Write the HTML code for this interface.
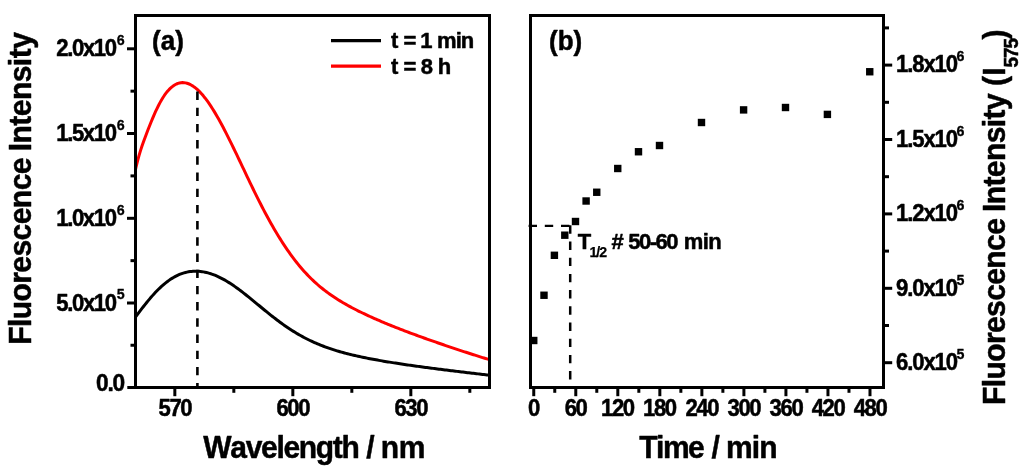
<!DOCTYPE html>
<html>
<head>
<meta charset="utf-8">
<title>Fluorescence figure</title>
<style>
html,body{margin:0;padding:0;background:#fff;}
body{width:1024px;height:472px;overflow:hidden;font-family:"Liberation Sans",sans-serif;}
svg{display:block;will-change:transform;}
</style>
</head>
<body>
<svg width="1024" height="472" viewBox="0 0 1024 472" font-family="Liberation Sans, sans-serif" font-weight="bold" fill="#000">
<style>text{stroke:#000;stroke-width:0.5px;stroke-linejoin:round;font-kerning:none}</style>
<rect x="0" y="0" width="1024" height="472" fill="#fff"/>
<defs><clipPath id="ca"><rect x="135.5" y="15.5" width="354.0" height="372.0"/></clipPath></defs>
<g clip-path="url(#ca)" fill="none" stroke-width="3.0" stroke-linejoin="round">
<path d="M134.5,318.42 L136.0,316.39 L137.5,314.38 L139.0,312.37 L140.5,310.39 L142.0,308.43 L143.5,306.50 L145.0,304.59 L146.5,302.72 L148.0,300.89 L149.5,299.09 L151.0,297.34 L152.5,295.63 L154.0,293.97 L155.5,292.35 L157.0,290.79 L158.5,289.29 L160.0,287.84 L161.5,286.44 L163.0,285.11 L164.5,283.83 L166.0,282.62 L167.5,281.46 L169.0,280.37 L170.5,279.34 L172.0,278.37 L173.5,277.47 L175.0,276.62 L176.5,275.84 L178.0,275.13 L179.5,274.47 L181.0,273.88 L182.5,273.35 L184.0,272.87 L185.5,272.46 L187.0,272.11 L188.5,271.81 L190.0,271.58 L191.5,271.39 L193.0,271.27 L194.5,271.20 L196.0,271.18 L197.5,271.22 L199.0,271.31 L200.5,271.45 L202.0,271.64 L203.5,271.88 L205.0,272.17 L206.5,272.51 L208.0,272.89 L209.5,273.32 L211.0,273.80 L212.5,274.32 L214.0,274.88 L215.5,275.48 L217.0,276.13 L218.5,276.81 L220.0,277.54 L221.5,278.30 L223.0,279.09 L224.5,279.93 L226.0,280.79 L227.5,281.69 L229.0,282.62 L230.5,283.58 L232.0,284.57 L233.5,285.59 L235.0,286.63 L236.5,287.70 L238.0,288.78 L239.5,289.89 L241.0,291.02 L242.5,292.17 L244.0,293.34 L245.5,294.52 L247.0,295.71 L248.5,296.91 L250.0,298.13 L251.5,299.35 L253.0,300.58 L254.5,301.81 L256.0,303.05 L257.5,304.29 L259.0,305.53 L260.5,306.77 L262.0,308.01 L263.5,309.24 L265.0,310.47 L266.5,311.69 L268.0,312.90 L269.5,314.10 L271.0,315.30 L272.5,316.48 L274.0,317.65 L275.5,318.80 L277.0,319.95 L278.5,321.07 L280.0,322.18 L281.5,323.28 L283.0,324.36 L284.5,325.42 L286.0,326.46 L287.5,327.48 L289.0,328.49 L290.5,329.47 L292.0,330.44 L293.5,331.38 L295.0,332.31 L296.5,333.22 L298.0,334.10 L299.5,334.97 L301.0,335.81 L302.5,336.64 L304.0,337.45 L305.5,338.23 L307.0,339.00 L308.5,339.75 L310.0,340.48 L311.5,341.19 L313.0,341.88 L314.5,342.56 L316.0,343.22 L317.5,343.86 L319.0,344.48 L320.5,345.09 L322.0,345.68 L323.5,346.26 L325.0,346.82 L326.5,347.36 L328.0,347.90 L329.5,348.41 L331.0,348.92 L332.5,349.41 L334.0,349.89 L335.5,350.36 L337.0,350.82 L338.5,351.26 L340.0,351.70 L341.5,352.12 L343.0,352.54 L344.5,352.95 L346.0,353.34 L347.5,353.73 L349.0,354.11 L350.5,354.48 L352.0,354.84 L353.5,355.20 L355.0,355.55 L356.5,355.89 L358.0,356.22 L359.5,356.55 L361.0,356.88 L362.5,357.19 L364.0,357.51 L365.5,357.81 L367.0,358.11 L368.5,358.41 L370.0,358.70 L371.5,358.99 L373.0,359.27 L374.5,359.55 L376.0,359.83 L377.5,360.10 L379.0,360.36 L380.5,360.63 L382.0,360.89 L383.5,361.15 L385.0,361.40 L386.5,361.65 L388.0,361.90 L389.5,362.14 L391.0,362.39 L392.5,362.63 L394.0,362.86 L395.5,363.10 L397.0,363.33 L398.5,363.56 L400.0,363.79 L401.5,364.02 L403.0,364.24 L404.5,364.46 L406.0,364.68 L407.5,364.90 L409.0,365.12 L410.5,365.33 L412.0,365.54 L413.5,365.75 L415.0,365.96 L416.5,366.17 L418.0,366.38 L419.5,366.58 L421.0,366.79 L422.5,366.99 L424.0,367.19 L425.5,367.39 L427.0,367.59 L428.5,367.79 L430.0,367.99 L431.5,368.18 L433.0,368.38 L434.5,368.57 L436.0,368.77 L437.5,368.96 L439.0,369.15 L440.5,369.34 L442.0,369.53 L443.5,369.72 L445.0,369.91 L446.5,370.09 L448.0,370.28 L449.5,370.46 L451.0,370.65 L452.5,370.83 L454.0,371.02 L455.5,371.20 L457.0,371.38 L458.5,371.56 L460.0,371.75 L461.5,371.93 L463.0,372.11 L464.5,372.29 L466.0,372.46 L467.5,372.64 L469.0,372.82 L470.5,373.00 L472.0,373.17 L473.5,373.35 L475.0,373.53 L476.5,373.70 L478.0,373.87 L479.5,374.05 L481.0,374.22 L482.5,374.39 L484.0,374.56 L485.5,374.74 L487.0,374.91 L488.5,375.08 L490.0,375.24" stroke="#000"/>
<path d="M134.5,174.17 L136.0,167.21 L137.5,161.08 L139.0,155.61 L140.5,150.65 L142.0,146.07 L143.5,141.77 L145.0,137.65 L146.5,133.67 L148.0,129.78 L149.5,125.96 L151.0,122.23 L152.5,118.60 L154.0,115.09 L155.5,111.72 L157.0,108.52 L158.5,105.48 L160.0,102.63 L161.5,99.97 L163.0,97.51 L164.5,95.24 L166.0,93.18 L167.5,91.31 L169.0,89.63 L170.5,88.14 L172.0,86.83 L173.5,85.71 L175.0,84.77 L176.5,84.00 L178.0,83.40 L179.5,82.98 L181.0,82.71 L182.5,82.61 L184.0,82.67 L185.5,82.88 L187.0,83.24 L188.5,83.75 L190.0,84.40 L191.5,85.20 L193.0,86.12 L194.5,87.18 L196.0,88.37 L197.5,89.68 L199.0,91.11 L200.5,92.66 L202.0,94.31 L203.5,96.08 L205.0,97.95 L206.5,99.92 L208.0,101.99 L209.5,104.15 L211.0,106.40 L212.5,108.73 L214.0,111.15 L215.5,113.64 L217.0,116.20 L218.5,118.83 L220.0,121.52 L221.5,124.27 L223.0,127.08 L224.5,129.94 L226.0,132.85 L227.5,135.81 L229.0,138.80 L230.5,141.82 L232.0,144.88 L233.5,147.97 L235.0,151.08 L236.5,154.21 L238.0,157.35 L239.5,160.50 L241.0,163.66 L242.5,166.82 L244.0,169.98 L245.5,173.14 L247.0,176.29 L248.5,179.42 L250.0,182.55 L251.5,185.65 L253.0,188.74 L254.5,191.80 L256.0,194.84 L257.5,197.85 L259.0,200.83 L260.5,203.78 L262.0,206.70 L263.5,209.58 L265.0,212.43 L266.5,215.24 L268.0,218.00 L269.5,220.73 L271.0,223.42 L272.5,226.06 L274.0,228.67 L275.5,231.22 L277.0,233.74 L278.5,236.21 L280.0,238.63 L281.5,241.01 L283.0,243.34 L284.5,245.63 L286.0,247.87 L287.5,250.07 L289.0,252.21 L290.5,254.32 L292.0,256.37 L293.5,258.38 L295.0,260.34 L296.5,262.25 L298.0,264.12 L299.5,265.95 L301.0,267.73 L302.5,269.46 L304.0,271.15 L305.5,272.80 L307.0,274.40 L308.5,275.97 L310.0,277.49 L311.5,278.97 L313.0,280.41 L314.5,281.81 L316.0,283.17 L317.5,284.50 L319.0,285.80 L320.5,287.06 L322.0,288.28 L323.5,289.48 L325.0,290.64 L326.5,291.78 L328.0,292.89 L329.5,293.97 L331.0,295.03 L332.5,296.06 L334.0,297.07 L335.5,298.05 L337.0,299.02 L338.5,299.97 L340.0,300.89 L341.5,301.80 L343.0,302.69 L344.5,303.56 L346.0,304.42 L347.5,305.26 L349.0,306.09 L350.5,306.90 L352.0,307.70 L353.5,308.49 L355.0,309.27 L356.5,310.03 L358.0,310.79 L359.5,311.53 L361.0,312.27 L362.5,312.99 L364.0,313.71 L365.5,314.42 L367.0,315.12 L368.5,315.82 L370.0,316.51 L371.5,317.19 L373.0,317.86 L374.5,318.53 L376.0,319.19 L377.5,319.84 L379.0,320.49 L380.5,321.14 L382.0,321.78 L383.5,322.41 L385.0,323.04 L386.5,323.66 L388.0,324.28 L389.5,324.89 L391.0,325.50 L392.5,326.10 L394.0,326.70 L395.5,327.30 L397.0,327.89 L398.5,328.47 L400.0,329.06 L401.5,329.64 L403.0,330.22 L404.5,330.79 L406.0,331.36 L407.5,331.92 L409.0,332.49 L410.5,333.05 L412.0,333.61 L413.5,334.16 L415.0,334.71 L416.5,335.26 L418.0,335.81 L419.5,336.35 L421.0,336.90 L422.5,337.44 L424.0,337.97 L425.5,338.51 L427.0,339.04 L428.5,339.57 L430.0,340.10 L431.5,340.63 L433.0,341.16 L434.5,341.68 L436.0,342.20 L437.5,342.72 L439.0,343.24 L440.5,343.76 L442.0,344.27 L443.5,344.79 L445.0,345.30 L446.5,345.81 L448.0,346.32 L449.5,346.82 L451.0,347.33 L452.5,347.83 L454.0,348.34 L455.5,348.84 L457.0,349.34 L458.5,349.83 L460.0,350.33 L461.5,350.82 L463.0,351.32 L464.5,351.81 L466.0,352.30 L467.5,352.78 L469.0,353.27 L470.5,353.75 L472.0,354.24 L473.5,354.72 L475.0,355.19 L476.5,355.67 L478.0,356.15 L479.5,356.62 L481.0,357.09 L482.5,357.56 L484.0,358.02 L485.5,358.48 L487.0,358.94 L488.5,359.40 L490.0,359.86" stroke="#ff0000"/>
</g>
<line x1="197.40" y1="91.50" x2="197.40" y2="387.50" stroke="#000" stroke-width="2.6" stroke-dasharray="8.4 7.8"/>
<rect x="135.5" y="15.5" width="354.0" height="372.0" fill="none" stroke="#000" stroke-width="3.0"/>
<rect x="530.5" y="15.5" width="353.0" height="372.0" fill="none" stroke="#000" stroke-width="3.0"/>
<line x1="127.00" y1="48.80" x2="134.50" y2="48.80" stroke="#000" stroke-width="3.0" />
<line x1="127.00" y1="133.50" x2="134.50" y2="133.50" stroke="#000" stroke-width="3.0" />
<line x1="127.00" y1="218.30" x2="134.50" y2="218.30" stroke="#000" stroke-width="3.0" />
<line x1="127.00" y1="303.00" x2="134.50" y2="303.00" stroke="#000" stroke-width="3.0" />
<line x1="127.30" y1="387.50" x2="134.50" y2="387.50" stroke="#000" stroke-width="3.0" />
<line x1="130.50" y1="91.15" x2="134.50" y2="91.15" stroke="#000" stroke-width="3.0" />
<line x1="130.50" y1="175.90" x2="134.50" y2="175.90" stroke="#000" stroke-width="3.0" />
<line x1="130.50" y1="260.65" x2="134.50" y2="260.65" stroke="#000" stroke-width="3.0" />
<line x1="130.50" y1="345.25" x2="134.50" y2="345.25" stroke="#000" stroke-width="3.0" />
<text transform="translate(56.32,56.30) scale(0.9500,1)" font-size="23.3" letter-spacing="-1.474" >2.0x10</text>
<text transform="translate(116.73,45.00) scale(0.9500,1)" font-size="15.0" letter-spacing="0.000" style="stroke-width:0.3px">6</text>
<text transform="translate(56.31,141.00) scale(0.9500,1)" font-size="23.3" letter-spacing="-1.474" >1.5x10</text>
<text transform="translate(116.73,129.70) scale(0.9500,1)" font-size="15.0" letter-spacing="0.000" style="stroke-width:0.3px">6</text>
<text transform="translate(56.31,225.80) scale(0.9500,1)" font-size="23.3" letter-spacing="-1.474" >1.0x10</text>
<text transform="translate(116.73,214.50) scale(0.9500,1)" font-size="15.0" letter-spacing="0.000" style="stroke-width:0.3px">6</text>
<text transform="translate(56.32,310.50) scale(0.9500,1)" font-size="23.3" letter-spacing="-1.474" >5.0x10</text>
<text transform="translate(116.83,299.20) scale(0.9500,1)" font-size="15.0" letter-spacing="0.000" style="stroke-width:0.3px">5</text>
<text transform="translate(96.05,390.90) scale(0.9500,1)" font-size="23.900000000000002" letter-spacing="-1.282" >0.0</text>
<line x1="174.83" y1="388.50" x2="174.83" y2="396.20" stroke="#000" stroke-width="3.0" />
<text transform="translate(158.50,416.00) scale(0.9500,1)" font-size="23.3" letter-spacing="-1.474" >570</text>
<line x1="292.83" y1="388.50" x2="292.83" y2="396.20" stroke="#000" stroke-width="3.0" />
<text transform="translate(276.40,416.00) scale(0.9500,1)" font-size="23.3" letter-spacing="-1.474" >600</text>
<line x1="410.83" y1="388.50" x2="410.83" y2="396.20" stroke="#000" stroke-width="3.0" />
<text transform="translate(394.40,416.00) scale(0.9500,1)" font-size="23.3" letter-spacing="-1.474" >630</text>
<line x1="233.83" y1="388.50" x2="233.83" y2="392.80" stroke="#000" stroke-width="3.0" />
<line x1="351.83" y1="388.50" x2="351.83" y2="392.80" stroke="#000" stroke-width="3.0" />
<line x1="469.83" y1="388.50" x2="469.83" y2="392.80" stroke="#000" stroke-width="3.0" />
<line x1="533.75" y1="388.50" x2="533.75" y2="396.20" stroke="#000" stroke-width="3.0" />
<text transform="translate(528.12,416.00) scale(0.9500,1)" font-size="23.3" letter-spacing="-1.474" >0</text>
<line x1="575.78" y1="388.50" x2="575.78" y2="396.20" stroke="#000" stroke-width="3.0" />
<text transform="translate(564.68,416.00) scale(0.9500,1)" font-size="23.3" letter-spacing="-1.474" >60</text>
<line x1="617.81" y1="388.50" x2="617.81" y2="396.20" stroke="#000" stroke-width="3.0" />
<text transform="translate(601.00,416.00) scale(0.9500,1)" font-size="23.3" letter-spacing="-1.474" >120</text>
<line x1="659.84" y1="388.50" x2="659.84" y2="396.20" stroke="#000" stroke-width="3.0" />
<text transform="translate(643.03,416.00) scale(0.9500,1)" font-size="23.3" letter-spacing="-1.474" >180</text>
<line x1="701.87" y1="388.50" x2="701.87" y2="396.20" stroke="#000" stroke-width="3.0" />
<text transform="translate(685.39,416.00) scale(0.9500,1)" font-size="23.3" letter-spacing="-1.474" >240</text>
<line x1="743.90" y1="388.50" x2="743.90" y2="396.20" stroke="#000" stroke-width="3.0" />
<text transform="translate(727.56,416.00) scale(0.9500,1)" font-size="23.3" letter-spacing="-1.474" >300</text>
<line x1="785.93" y1="388.50" x2="785.93" y2="396.20" stroke="#000" stroke-width="3.0" />
<text transform="translate(769.59,416.00) scale(0.9500,1)" font-size="23.3" letter-spacing="-1.474" >360</text>
<line x1="827.96" y1="388.50" x2="827.96" y2="396.20" stroke="#000" stroke-width="3.0" />
<text transform="translate(811.67,416.00) scale(0.9500,1)" font-size="23.3" letter-spacing="-1.474" >420</text>
<line x1="869.99" y1="388.50" x2="869.99" y2="396.20" stroke="#000" stroke-width="3.0" />
<text transform="translate(853.70,416.00) scale(0.9500,1)" font-size="23.3" letter-spacing="-1.474" >480</text>
<line x1="554.76" y1="388.50" x2="554.76" y2="392.80" stroke="#000" stroke-width="3.0" />
<line x1="596.79" y1="388.50" x2="596.79" y2="392.80" stroke="#000" stroke-width="3.0" />
<line x1="638.83" y1="388.50" x2="638.83" y2="392.80" stroke="#000" stroke-width="3.0" />
<line x1="680.86" y1="388.50" x2="680.86" y2="392.80" stroke="#000" stroke-width="3.0" />
<line x1="722.88" y1="388.50" x2="722.88" y2="392.80" stroke="#000" stroke-width="3.0" />
<line x1="764.91" y1="388.50" x2="764.91" y2="392.80" stroke="#000" stroke-width="3.0" />
<line x1="806.94" y1="388.50" x2="806.94" y2="392.80" stroke="#000" stroke-width="3.0" />
<line x1="848.98" y1="388.50" x2="848.98" y2="392.80" stroke="#000" stroke-width="3.0" />
<line x1="884.50" y1="65.10" x2="892.20" y2="65.10" stroke="#000" stroke-width="3.0" />
<text transform="translate(895.92,72.00) scale(0.9500,1)" font-size="23.3" letter-spacing="-1.158" >1.8x10</text>
<text transform="translate(956.43,61.30) scale(0.9500,1)" font-size="15.0" letter-spacing="0.000" style="stroke-width:0.3px">6</text>
<line x1="884.50" y1="139.50" x2="892.20" y2="139.50" stroke="#000" stroke-width="3.0" />
<text transform="translate(895.92,147.00) scale(0.9500,1)" font-size="23.3" letter-spacing="-1.158" >1.5x10</text>
<text transform="translate(956.43,135.70) scale(0.9500,1)" font-size="15.0" letter-spacing="0.000" style="stroke-width:0.3px">6</text>
<line x1="884.50" y1="213.90" x2="892.20" y2="213.90" stroke="#000" stroke-width="3.0" />
<text transform="translate(895.92,221.40) scale(0.9500,1)" font-size="23.3" letter-spacing="-1.158" >1.2x10</text>
<text transform="translate(956.43,210.10) scale(0.9500,1)" font-size="15.0" letter-spacing="0.000" style="stroke-width:0.3px">6</text>
<line x1="884.50" y1="288.30" x2="892.20" y2="288.30" stroke="#000" stroke-width="3.0" />
<text transform="translate(895.92,295.80) scale(0.9500,1)" font-size="23.3" letter-spacing="-1.158" >9.0x10</text>
<text transform="translate(956.52,284.50) scale(0.9500,1)" font-size="15.0" letter-spacing="0.000" style="stroke-width:0.3px">5</text>
<line x1="884.50" y1="362.70" x2="892.20" y2="362.70" stroke="#000" stroke-width="3.0" />
<text transform="translate(895.92,370.20) scale(0.9500,1)" font-size="23.3" letter-spacing="-1.158" >6.0x10</text>
<text transform="translate(956.52,358.90) scale(0.9500,1)" font-size="15.0" letter-spacing="0.000" style="stroke-width:0.3px">5</text>
<line x1="884.50" y1="27.90" x2="889.00" y2="27.90" stroke="#000" stroke-width="3.0" />
<line x1="884.50" y1="102.30" x2="889.00" y2="102.30" stroke="#000" stroke-width="3.0" />
<line x1="884.50" y1="176.70" x2="889.00" y2="176.70" stroke="#000" stroke-width="3.0" />
<line x1="884.50" y1="251.10" x2="889.00" y2="251.10" stroke="#000" stroke-width="3.0" />
<line x1="884.50" y1="325.50" x2="889.00" y2="325.50" stroke="#000" stroke-width="3.0" />
<rect x="530.05" y="336.80" width="7.4" height="7.4" fill="#000"/>
<rect x="540.30" y="291.55" width="7.4" height="7.4" fill="#000"/>
<rect x="550.70" y="251.60" width="7.4" height="7.4" fill="#000"/>
<rect x="561.10" y="231.50" width="7.4" height="7.4" fill="#000"/>
<rect x="571.80" y="217.80" width="7.4" height="7.4" fill="#000"/>
<rect x="582.40" y="197.30" width="7.4" height="7.4" fill="#000"/>
<rect x="593.05" y="188.55" width="7.4" height="7.4" fill="#000"/>
<rect x="614.05" y="164.80" width="7.4" height="7.4" fill="#000"/>
<rect x="634.80" y="148.05" width="7.4" height="7.4" fill="#000"/>
<rect x="655.80" y="141.80" width="7.4" height="7.4" fill="#000"/>
<rect x="697.80" y="118.80" width="7.4" height="7.4" fill="#000"/>
<rect x="739.90" y="106.20" width="7.4" height="7.4" fill="#000"/>
<rect x="781.80" y="103.80" width="7.4" height="7.4" fill="#000"/>
<rect x="823.70" y="110.70" width="7.4" height="7.4" fill="#000"/>
<rect x="866.05" y="68.05" width="7.4" height="7.4" fill="#000"/>
<line x1="528.60" y1="225.80" x2="571.40" y2="225.80" stroke="#000" stroke-width="2.3" stroke-dasharray="8.4 7.8"/>
<line x1="570.20" y1="225.30" x2="570.20" y2="387.50" stroke="#000" stroke-width="2.5" stroke-dasharray="8.4 7.8"/>
<text transform="translate(151.94,49.60) scale(0.9700,1)" font-size="26.8" letter-spacing="0.105" >(a)</text>
<text transform="translate(548.94,49.50) scale(0.9700,1)" font-size="26.8" letter-spacing="0.076" >(b)</text>
<line x1="331.00" y1="40.70" x2="381.00" y2="40.70" stroke="#000" stroke-width="3.2" />
<line x1="331.00" y1="66.20" x2="381.00" y2="66.20" stroke="#ff0000" stroke-width="3.2" />
<text transform="translate(391.00,48.00)" font-size="22" letter-spacing="0.000" >t</text>
<text transform="translate(403.40,48.00)" font-size="22" letter-spacing="0.000" >=</text>
<text transform="translate(420.15,48.00)" font-size="22" letter-spacing="0.000" >1</text>
<text transform="translate(437.10,48.00)" font-size="22" letter-spacing="-0.950" >min</text>
<text transform="translate(391.00,73.50)" font-size="22" letter-spacing="0.000" >t</text>
<text transform="translate(403.40,73.50)" font-size="22" letter-spacing="0.000" >=</text>
<text transform="translate(420.70,73.50)" font-size="22" letter-spacing="0.000" >8</text>
<text transform="translate(437.65,73.50)" font-size="22" letter-spacing="0.000" >h</text>
<text transform="translate(577.80,249.20)" font-size="22" letter-spacing="0.000" >T</text>
<text transform="translate(589.40,257.00)" font-size="14.2" letter-spacing="-1.000" style="stroke-width:0.25px">1/2</text>
<text transform="translate(611.40,249.20)" font-size="22" letter-spacing="0.000" >#</text>
<text transform="translate(628.30,249.20)" font-size="22" letter-spacing="-1.525" >50-60</text>
<text transform="translate(683.70,249.20)" font-size="22" letter-spacing="-0.500" >min</text>
<text transform="translate(203.30,457.60) scale(0.9300,1)" font-size="32.3" letter-spacing="-1.438" >Wavelength</text>
<text transform="translate(366.26,457.60) scale(0.9300,1)" font-size="32.3" letter-spacing="0.000" >/</text>
<text transform="translate(380.85,457.60) scale(0.9300,1)" font-size="32.3" letter-spacing="-0.537" >nm</text>
<text transform="translate(639.33,457.60) scale(0.9300,1)" font-size="32.3" letter-spacing="-1.673" >Time</text>
<text transform="translate(711.46,457.60) scale(0.9300,1)" font-size="32.3" letter-spacing="0.000" >/</text>
<text transform="translate(726.05,457.60) scale(0.9300,1)" font-size="32.3" letter-spacing="-0.951" >min</text>
<text transform="translate(30.60,344.85) rotate(-90) scale(0.9300,1)" font-size="32.3" letter-spacing="-0.611" >Fluorescence</text>
<text transform="translate(30.60,151.35) rotate(-90) scale(0.9300,1)" font-size="32.3" letter-spacing="-0.574" >Intensity</text>
<text transform="translate(1005.40,405.05) rotate(-90) scale(0.9300,1)" font-size="32.3" letter-spacing="-0.650" >Fluorescence</text>
<text transform="translate(1005.40,212.05) rotate(-90) scale(0.9300,1)" font-size="32.3" letter-spacing="-0.641" >Intensity</text>
<text transform="translate(1005.40,86.09) rotate(-90) scale(0.9300,1)" font-size="32.3" letter-spacing="0.452" >(I</text>
<text transform="translate(1018.40,67.54) rotate(-90) scale(0.9200,1)" font-size="20.5" letter-spacing="-1.070" >575</text>
<text transform="translate(1005.40,39.49) rotate(-90) scale(0.9300,1)" font-size="32.3" letter-spacing="0.000" >)</text>
</svg>
</body>
</html>
